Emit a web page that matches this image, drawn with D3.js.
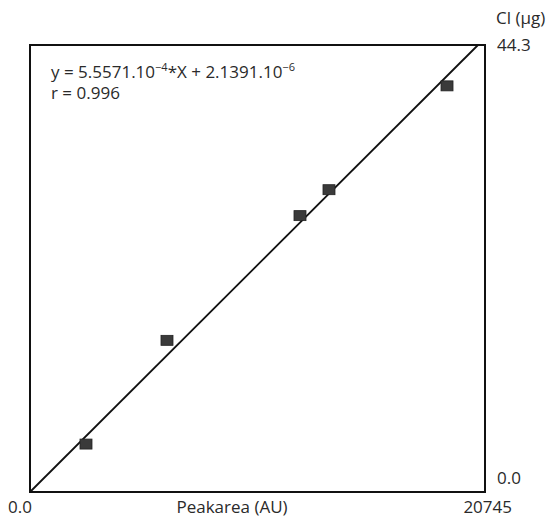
<!DOCTYPE html>
<html>
<head>
<meta charset="utf-8">
<script src="https://cdn.jsdelivr.net/npm/d3@7"></script>
<style>
  body { margin: 0; background: #fff; }
  text { font-family: "Open Sans", "Noto Sans", sans-serif; fill: #2a2a2a; }
</style>
</head>
<body>
<div id="chart"></div>
<script>
// calibration points
const peakArea = [2553, 6246, 12310, 13632, 19013];
const chlorine = [4.75, 15.03, 27.39, 29.96, 40.25];

// fitted line as drawn (end points in data units)
const fitX = [0, 20426];
const fitY = [0, 44.3];

const xDomain = [0, 20745];
const yDomain = [0, 44.3];
const xTickLabels = ["0.0", "20745"];
const yTickLabels = ["0.0", "44.3"];

function create_svg() {
  const margin = {top: 45, right: 68, bottom: 27, left: 30},
    width = 553 - margin.left - margin.right,
    height = 519 - margin.top - margin.bottom;

  const svg = d3.select("#chart")
    .append("svg")
      .attr("width", 553)
      .attr("height", 519)
    .append("g")
      .attr("transform", `translate(${margin.left}, ${margin.top})`);

  const x = d3.scaleLinear().domain(xDomain).range([0, width]);
  const y = d3.scaleLinear().domain(yDomain).range([height, 0]);

  // frame
  svg.append("rect")
    .attr("x", 0).attr("y", 0)
    .attr("width", width).attr("height", height)
    .attr("fill", "none")
    .attr("stroke", "#111")
    .attr("stroke-width", 2);

  // regression line
  const line = d3.line().x(d => x(d[0])).y(d => y(d[1]));
  svg.append("path")
    .datum(d3.zip(fitX, fitY))
    .attr("d", line)
    .attr("fill", "none")
    .attr("stroke", "#111")
    .attr("stroke-width", 1.8);

  // points
  svg.selectAll("rect.pt")
    .data(d3.zip(peakArea, chlorine))
    .join("rect")
      .attr("class", "pt")
      .attr("x", d => x(d[0]) - 6)
      .attr("y", d => y(d[1]) - 5)
      .attr("width", 12)
      .attr("height", 10)
      .attr("fill", "#3a3a3a")
      .attr("stroke", "#222")
      .attr("stroke-width", 0.8);

  // x axis labels
  svg.append("text")
    .attr("x", x(xDomain[0]) - 10).attr("y", height + 21)
    .style("text-anchor", "middle")
    .style("font-size", "17px")
    .text(xTickLabels[0]);
  svg.append("text")
    .attr("x", x(xDomain[1]) + 27).attr("y", height + 21)
    .style("text-anchor", "end")
    .style("font-size", "17px")
    .text(xTickLabels[1]);
  svg.append("text")
    .attr("x", 202).attr("y", height + 21)
    .style("text-anchor", "middle")
    .style("font-size", "17px")
    .text("Peakarea (AU)");

  // y axis labels (right side)
  svg.append("text")
    .attr("x", width + 12).attr("y", y(yDomain[0]) - 8)
    .style("font-size", "17px")
    .text(yTickLabels[0]);
  svg.append("text")
    .attr("x", width + 12).attr("y", y(yDomain[1]) + 6)
    .style("font-size", "17px")
    .text(yTickLabels[1]);
  svg.append("text")
    .attr("x", width + 11).attr("y", y(yDomain[1]) - 21)
    .style("font-size", "17px")
    .text("Cl (µg)");

  // equation
  const eq = svg.append("text")
    .attr("x", 21).attr("y", 33)
    .style("font-size", "17px");
  eq.append("tspan").text("y = 5.5571.10");
  eq.append("tspan").attr("dy", -7).style("font-size", "11px").text("−4");
  eq.append("tspan").attr("dy", 7).text("*X + 2.1391.10");
  eq.append("tspan").attr("dy", -7).style("font-size", "11px").text("−6");

  svg.append("text")
    .attr("x", 21).attr("y", 54)
    .style("font-size", "17px")
    .text("r = 0.996");
}

create_svg();
</script>
</body>
</html>
